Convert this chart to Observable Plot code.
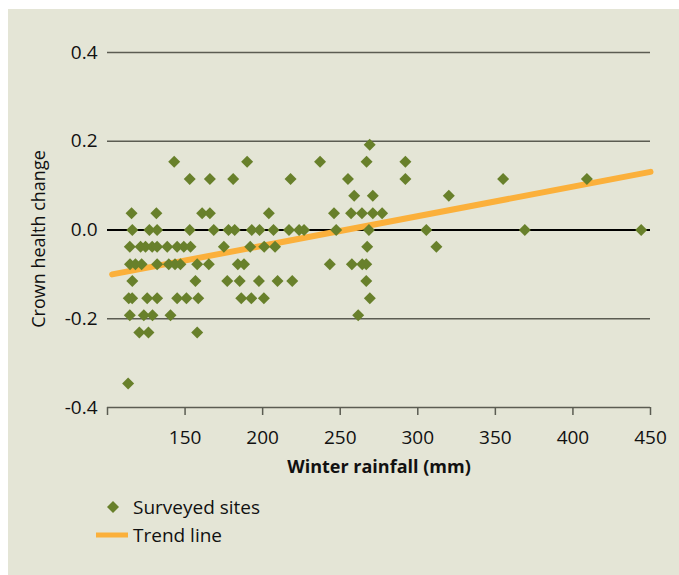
<!DOCTYPE html>
<html>
<head>
<meta charset="utf-8">
<script src="https://cdn.jsdelivr.net/npm/d3@7"></script>
<script src="https://cdn.jsdelivr.net/npm/@observablehq/plot@0.6"></script>
<style>
  html, body { margin: 0; padding: 0; background: #ffffff; }
  #panel { position: absolute; left: 8px; top: 9px; width: 671px; height: 566px; background: #e4e5d6; font-family: "Open Sans", sans-serif; color: #111; }
  #chart svg { display: block; }
  .leg { position: absolute; left: 0; font-size: 19px; height: 24px; line-height: 24px; }
  .leg .sym { position: absolute; top: 0; }
  .leg .txt { position: absolute; left: 125px; white-space: nowrap; }
</style>
</head>
<body>
<div id="panel">
  <div id="chart"></div>
  <div class="leg" style="top:486px;">
    <svg class="sym" width="140" height="24" style="left:0"><path d="M105,6 L111,12 L105,18 L99,12 Z" fill="#68802b"/></svg>
    <span class="txt">Surveyed sites</span>
  </div>
  <div class="leg" style="top:514px;">
    <svg class="sym" width="140" height="24" style="left:0"><line x1="88" x2="120" y1="12" y2="12" stroke="#fbb03b" stroke-width="5"/></svg>
    <span class="txt">Trend line</span>
  </div>
</div>
<script>
// Surveyed sites: winter rainfall (mm) and crown health change
const rainfall = [
  269,
  143, 190, 237, 267, 292,
  153, 166, 181, 218, 255, 292, 355, 409,
  259, 271, 320,
  115.5, 131.5, 161, 166, 204, 246, 257, 264, 271, 277,
  116, 127, 132, 153, 168.5, 178, 182, 193, 198, 207, 217, 223.5, 226.7, 247.4, 268.5, 305.5, 369, 444,
  114.4, 121.3, 124.5, 128.8, 132, 138.5, 144.9, 149.2, 153.5, 175, 192, 201, 208, 267.4, 312,
  114.5, 118, 122, 132, 139.5, 143.5, 147, 157.8, 165.3, 184, 188, 243.3, 257.5, 264.2, 266.8,
  116, 156.7, 177.2, 185.2, 197.6, 209.6, 219.1, 266.8,
  113.7, 115.9, 125.6, 132, 144.9, 150.9, 158.5, 186.2, 192.7, 200.8, 269.1,
  114.4, 123.4, 129, 140.6, 261.6,
  120.5, 126.4, 157.8,
  113.3
];
const crownChange = [
  0.192,
  0.154, 0.154, 0.154, 0.154, 0.154,
  0.115, 0.115, 0.115, 0.115, 0.115, 0.115, 0.115, 0.115,
  0.077, 0.077, 0.077,
  0.038, 0.038, 0.038, 0.038, 0.038, 0.038, 0.038, 0.038, 0.038, 0.038,
  0, 0, 0, 0, 0, 0, 0, 0, 0, 0, 0, 0, 0, 0, 0, 0, 0, 0,
  -0.038, -0.038, -0.038, -0.038, -0.038, -0.038, -0.038, -0.038, -0.038, -0.038, -0.038, -0.038, -0.038, -0.038, -0.038,
  -0.077, -0.077, -0.077, -0.077, -0.077, -0.077, -0.077, -0.077, -0.077, -0.077, -0.077, -0.077, -0.077, -0.077, -0.077,
  -0.115, -0.115, -0.115, -0.115, -0.115, -0.115, -0.115, -0.115,
  -0.154, -0.154, -0.154, -0.154, -0.154, -0.154, -0.154, -0.154, -0.154, -0.154, -0.154,
  -0.192, -0.192, -0.192, -0.192, -0.192,
  -0.231, -0.231, -0.231,
  -0.346
];
// Trend line end points
const trendX = [103, 450];
const trendY = [-0.100, 0.131];
// Axis ticks
const xTicks = [100, 150, 200, 250, 300, 350, 400, 450];
const xTickLabels = ["", "150", "200", "250", "300", "350", "400", "450"];
const yTicks = [0.4, 0.2, 0, -0.2, -0.4];
const yTickLabels = ["0.4", "0.2", "0.0", "-0.2", "-0.4"];
const gridTicks = [0.4, 0.2, -0.2];

const sites = rainfall.map((r, i) => ({ rainfall: r, change: crownChange[i] }));
const trend = trendX.map((x, i) => ({ x, y: trendY[i] }));

const chart = Plot.plot({
  width: 671,
  height: 475,
  marginLeft: 99,
  marginRight: 29,
  marginTop: 43,
  marginBottom: 77,
  style: { fontFamily: "Open Sans, sans-serif", fontSize: "19px", color: "#111", background: "transparent", overflow: "visible" },
  x: { domain: [100, 450] },
  y: { domain: [-0.4, 0.4] },
  marks: [
    Plot.ruleY(gridTicks, { x1: 100, x2: 450, stroke: "#5b5c52", strokeWidth: 1.5 }),
    Plot.ruleY([0], { x1: 100, x2: 450, stroke: "#000", strokeWidth: 2.2 }),
    Plot.axisY({
      ticks: yTicks, tickSize: 0, tickPadding: 10,
      tickFormat: d => yTickLabels[yTicks.indexOf(d)],
      label: null, fontSize: 19
    }),
    Plot.text(["Crown health change"], { frameAnchor: "left", dx: -68, dy: 9, rotate: -90, textAnchor: "middle", lineAnchor: "middle", fontSize: 18, fill: "#111" }),
    Plot.axisX({
      ticks: xTicks, tickSize: 8, tickPadding: 15, stroke: "#5b5c52", strokeWidth: 1.5,
      tickFormat: d => xTickLabels[xTicks.indexOf(d)],
      label: null, fontSize: 19
    }),
    Plot.ruleY([-0.4], { x1: 100, x2: 450, stroke: "#5b5c52", strokeWidth: 1.5 }),
    Plot.text(["Winter rainfall (mm)"], { frameAnchor: "bottom", dy: 65, fontWeight: "bold", fontSize: 18, lineAnchor: "bottom", fill: "#111" }),
    Plot.line(trend, { x: "x", y: "y", stroke: "#fbb03b", strokeWidth: 6 }),
    Plot.dot(sites, { x: "rainfall", y: "change", symbol: "diamond2", r: 5.4, fill: "#68802b", stroke: "none" })
  ]
});
document.getElementById("chart").appendChild(chart);
</script>
</body>
</html>
